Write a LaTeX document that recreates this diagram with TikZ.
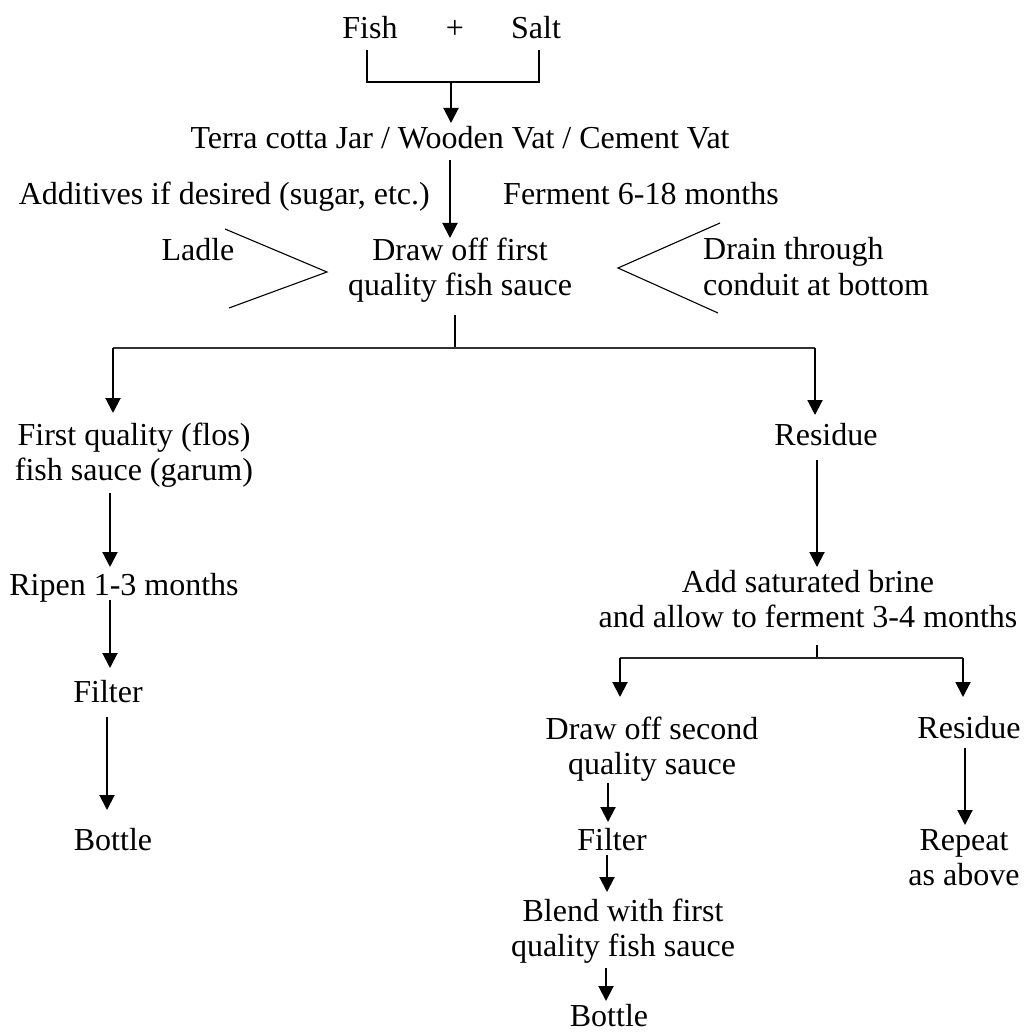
\documentclass[tikz,border=0pt]{standalone}
\usepackage{fontspec}
\setmainfont{Liberation Serif}
\usetikzlibrary{arrows.meta}
\begin{document}
\begin{tikzpicture}[x=1pt,y=-1pt,
  lbl/.style={inner sep=0pt, font=\fontsize{32}{35.5}\selectfont},
  arr/.style={line width=2pt, -{Triangle[length=15pt,width=15pt]}},
  thinline/.style={line width=1.1pt},
  bar/.style={line width=2pt, draw=black!80},
  subbar/.style={line width=1.4pt, draw=black!85}]
\useasboundingbox (0,0) rectangle (1027,1032);
\fill[white] (0,0) rectangle (1027,1032);

% ---- texts
\node[lbl,anchor=base] (fish) at (370,39) {Fish};
\node[lbl,anchor=base] (plus) at (455,39) {+};
\node[lbl,anchor=base] (salt) at (536,39) {Salt};
\node[lbl,anchor=base] (jar) at (460,149) {Terra cotta Jar / Wooden Vat / Cement Vat};
\node[lbl,anchor=base east] (add) at (430,205) {Additives if desired (sugar, etc.)};
\node[lbl,anchor=base west] (ferm) at (503,205) {Ferment 6-18 months};
\node[lbl,anchor=base] (ladle) at (198,260) {Ladle};
\node[lbl,align=center] (draw1) at (460,270) {Draw off first\\quality fish sauce};
\node[lbl,align=left,anchor=west] (drain) at (703,266.5) {Drain through\\conduit at bottom};
\node[lbl,align=center] (firstq) at (134,455) {First quality (flos)\\fish sauce (garum)};
\node[lbl,anchor=base] (ripen) at (124,595) {Ripen 1-3 months};
\node[lbl,anchor=base] (filter1) at (108,702) {Filter};
\node[lbl,anchor=base] (bottle1) at (113,850) {Bottle};
\node[lbl,anchor=base] (res1) at (826,445) {Residue};
\node[lbl,align=center] (brine) at (808,599) {Add saturated brine\\and allow to ferment 3-4 months};
\node[lbl,align=center] (draw2) at (652,749) {Draw off second\\quality sauce};
\node[lbl,anchor=base] (filter2) at (612,850) {Filter};
\node[lbl,align=center] (blend) at (623,931) {Blend with first\\quality fish sauce};
\node[lbl,anchor=base] (bottle2) at (609,1026) {Bottle};
\node[lbl,anchor=base] (res2) at (969,738) {Residue};
\node[lbl,align=center] (rep) at (964,857.5) {Repeat\\as above};

% ---- junction points
\coordinate (fl) at (367,50);
\coordinate (fr) at (539,50);
\coordinate (fj) at (451,82);
\coordinate (jt) at (451,123);
\coordinate (js) at (450,160);
\coordinate (dt) at (450,238);
\coordinate (ds) at (455,315);
\coordinate (dj) at (455,348);
\coordinate (lj) at (113,348);
\coordinate (rj) at (815,348);
\coordinate (ft) at (113,413);
\coordinate (rt) at (815,415);
\coordinate (fs) at (110,493);
\coordinate (rpt) at (110,567);
\coordinate (rps) at (110,600);
\coordinate (f1t) at (110,668);
\coordinate (f1s) at (107,717);
\coordinate (b1t) at (107,810);
\coordinate (r1s) at (817,460);
\coordinate (brt) at (817,567);
\coordinate (brs) at (817,645);
\coordinate (bj) at (817,658);
\coordinate (blj) at (620,658);
\coordinate (brj) at (963,658);
\coordinate (d2t) at (620,697);
\coordinate (r2t) at (963,697);
\coordinate (d2s) at (608,783);
\coordinate (f2t) at (608,822);
\coordinate (f2s) at (607,855);
\coordinate (blt) at (607,892);
\coordinate (bls) at (606,968);
\coordinate (b2t) at (606,1001);
\coordinate (r2s) at (965,748);
\coordinate (rept) at (965,825);

% ---- chevrons
\draw[thinline] (225,229) -- (327,272) -- (229,308);
\draw[thinline] (720,223) -- (618,268) -- (718,313);

% ---- connectors
\draw[thinline] (fl) |- (fj) -| (fr);
\draw[arr] (fj) -- (jt);
\draw[arr] (js) -- (dt);
\draw[thinline] (ds) -- (dj);
\draw[bar] (lj) -- (rj);
\draw[arr] (lj) -- (ft);
\draw[arr] (rj) -- (rt);
\draw[arr] (fs) -- (rpt);
\draw[arr] (rps) -- (f1t);
\draw[arr] (f1s) -- (b1t);
\draw[arr] (r1s) -- (brt);
\draw[thinline] (brs) -- (bj);
\draw[subbar] (blj) -- (brj);
\draw[arr] (blj) -- (d2t);
\draw[arr] (brj) -- (r2t);
\draw[arr] (d2s) -- (f2t);
\draw[arr] (f2s) -- (blt);
\draw[arr] (bls) -- (b2t);
\draw[arr] (r2s) -- (rept);
\end{tikzpicture}
\end{document}
